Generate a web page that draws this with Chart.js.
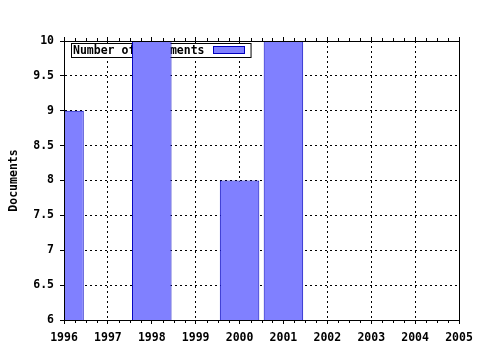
<!DOCTYPE html>
<html><head><meta charset="utf-8">
<script src="https://cdn.jsdelivr.net/npm/chart.js@4/dist/chart.umd.min.js"></script>
<style>html,body{margin:0;padding:0;background:#fff;}</style>
</head><body>
<canvas id="c" width="480" height="350"></canvas>
<script>
// ---- data ----
const years = [1996, 1998, 2000, 2001];
const documents = [9, 10, 8, 10];
const seriesLabel = 'Number of Documents';
const yTitle = 'Documents';
const xRange = [1996, 2005];
const yRange = [6, 10];
const yStep = 0.5;
const xStep = 1;
const xMinorSteps = [0.25, 0.5, 0.75];

const FONT = '"DejaVu Sans Mono", monospace';
const FILL = '#8080ff';
const EDGE = '#0000c0';

const minorTicks = {
  id: 'minorTicks',
  afterDraw(chart) {
    const sx = chart.scales.x;
    const {top, bottom} = chart.chartArea;
    const ctx = chart.ctx;
    ctx.save();
    ctx.strokeStyle = '#000';
    ctx.lineWidth = 1;
    ctx.beginPath();
    for (let v = xRange[0]; v < xRange[1]; v += xStep) {
      for (const q of xMinorSteps) {
        const px = Math.round(sx.getPixelForValue(v + q)) + 0.5;
        ctx.moveTo(px, bottom); ctx.lineTo(px, bottom + 3);
        ctx.moveTo(px, top); ctx.lineTo(px, top - 3);
      }
    }
    ctx.stroke();
    ctx.restore();
  }
};

const boxLegend = {
  id: 'boxLegend',
  beforeDatasetsDraw(chart) {
    const a = chart.chartArea;
    const ctx = chart.ctx;
    const label = chart.data.datasets[0].label;
    ctx.save();
    ctx.font = 'bold 11.5px ' + FONT;
    const tw = ctx.measureText(label).width;
    const bx = Math.round(a.left + 7), by = Math.round(a.top + 2);
    const tx = bx + 2;
    const sw = tx + tw + 8;
    const bw = (sw + 32 + 6) - bx, bh = 14;
    ctx.fillStyle = '#fff';
    ctx.fillRect(bx, by, bw, bh);
    ctx.strokeStyle = '#000';
    ctx.lineWidth = 1;
    ctx.strokeRect(bx + 0.5, by + 0.5, bw, bh);
    ctx.fillStyle = '#000';
    ctx.textBaseline = 'middle';
    ctx.textAlign = 'left';
    ctx.fillText(label, tx, by + bh / 2 + 1);
    ctx.fillStyle = FILL;
    ctx.fillRect(Math.round(sw), by + 3, 32, 8);
    ctx.strokeStyle = EDGE;
    ctx.strokeRect(Math.round(sw) + 0.5, by + 3.5, 31, 7);
    ctx.restore();
  }
};

Chart.defaults.font.family = FONT;
Chart.defaults.font.weight = 'bold';
Chart.defaults.font.size = 11.5;
Chart.defaults.color = '#000';

new Chart(document.getElementById('c'), {
  type: 'bar',
  data: {
    datasets: [{
      label: seriesLabel,
      data: years.map((y, i) => ({x: y, y: documents[i]})),
      backgroundColor: FILL,
      borderColor: EDGE,
      borderWidth: 1,
      borderSkipped: false,
      categoryPercentage: 1,
      barPercentage: 0.9,
      clip: 0,
      xAxisID: 'x',
      yAxisID: 'y'
    }]
  },
  options: {
    responsive: false,
    animation: false,
    events: [],
    layout: {padding: {left: 0, top: 41, right: 21, bottom: 0}},
    plugins: {legend: {display: false}, tooltip: {enabled: false}, title: {display: false}},
    scales: {
      x: {
        type: 'linear', position: 'bottom', min: xRange[0], max: xRange[1],
        offset: false,
        ticks: {stepSize: xStep, autoSkip: false, maxRotation: 0, padding: 7,
                callback: v => String(v)},
        grid: {color: '#000', lineWidth: 1, offset: false, tickLength: 4, tickColor: '#000', tickBorderDash: []},
        border: {display: true, color: '#000', width: 1, dash: [2, 3], z: 1},
        afterFit: s => { s.height = 30; }
      },
      x2: {
        type: 'linear', position: 'top', min: xRange[0], max: xRange[1],
        offset: false,
        ticks: {display: false, stepSize: xStep},
        grid: {drawOnChartArea: false, tickLength: 4, tickColor: '#000', offset: false},
        border: {display: true, color: '#000', width: 1, z: 1},
        afterFit: s => { s.height = 0; }
      },
      y: {
        type: 'linear', position: 'left', min: yRange[0], max: yRange[1],
        ticks: {stepSize: yStep, padding: 6, callback: v => String(v)},
        grid: {color: '#000', lineWidth: 1, tickLength: 4, tickColor: '#000', tickBorderDash: []},
        border: {display: true, color: '#000', width: 1, dash: [2, 3], z: 1},
        title: {display: true, text: yTitle, padding: {top: 7, bottom: 0}, font: {weight: 'bold', size: 11.5}},
        afterFit: s => { s.width = 64; }
      },
      y2: {
        type: 'linear', position: 'right', min: yRange[0], max: yRange[1],
        ticks: {display: false},
        grid: {drawOnChartArea: false, drawTicks: false},
        border: {display: true, color: '#000', width: 1, z: 1},
        afterFit: s => { s.width = 0; }
      }
    }
  },
  plugins: [boxLegend, minorTicks]
});
</script>
</body></html>
